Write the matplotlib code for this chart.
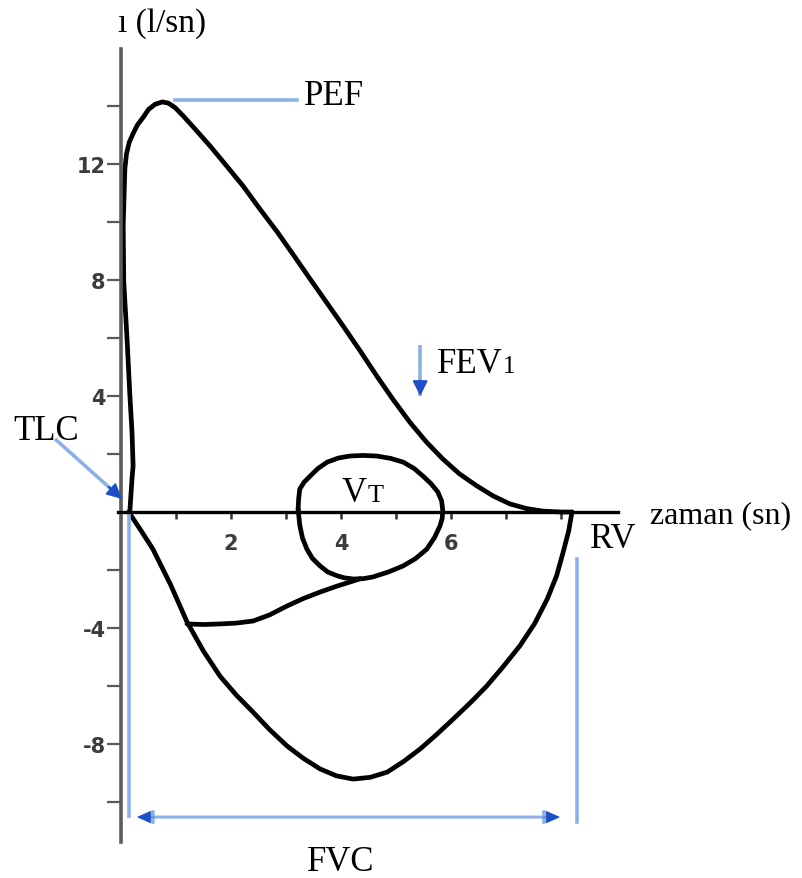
import matplotlib
matplotlib.use("Agg")
import matplotlib.pyplot as plt
from matplotlib.ticker import FixedLocator, FixedFormatter

# flow-volume loop (volume in l, flow in l/sn)
exp_x = [0.16, 0.20, 0.22, 0.20, 0.16, 0.11, 0.05, 0.04, 0.07, 0.10, 0.15, 0.22, 0.30,
         0.40, 0.50, 0.62, 0.75, 0.86, 0.98, 1.13, 1.35, 1.62, 1.90, 2.22, 2.52, 2.84,
         3.14, 3.44, 3.74, 4.04, 4.35, 4.65, 4.95, 5.25, 5.55, 5.85, 6.15, 6.47, 6.77,
         7.07, 7.37, 7.67, 8.00, 8.20]
exp_y = [0.00, 1.14, 1.59, 2.76, 4.07, 5.97, 7.93, 9.86, 11.83, 12.35, 12.75, 13.05, 13.35,
         13.60, 13.88, 14.06, 14.14, 14.10, 13.95, 13.66, 13.20, 12.62, 11.98, 11.24, 10.46,
         9.66, 8.85, 8.03, 7.22, 6.41, 5.55, 4.69, 3.87, 3.10, 2.42, 1.83, 1.32, 0.90, 0.55,
         0.28, 0.12, 0.03, 0.00, 0.00]

insp_x = [0.14, 0.35, 0.58, 0.90, 1.20, 1.50, 1.80, 2.10, 2.40, 2.70, 3.02, 3.32, 3.62,
          3.92, 4.22, 4.53, 4.84, 5.14, 5.44, 5.74, 6.04, 6.35, 6.65, 6.95, 7.25, 7.52,
          7.75, 7.92, 8.04, 8.14, 8.20]
insp_y = [0.00, -0.60, -1.28, -2.50, -3.79, -4.80, -5.66, -6.32, -6.90, -7.50, -8.07,
          -8.50, -8.86, -9.10, -9.21, -9.15, -8.97, -8.60, -8.17, -7.67, -7.14, -6.58,
          -6.00, -5.33, -4.62, -3.85, -3.00, -2.20, -1.38, -0.65, 0.00]

tidal_x = [3.22, 3.23, 3.25, 3.33, 3.44, 3.58, 3.75, 3.95, 4.16, 4.40, 4.65, 4.90, 5.13,
           5.33, 5.49, 5.64, 5.76, 5.83, 5.85, 5.84, 5.80, 5.70, 5.56, 5.36, 5.13, 4.86,
           4.58, 4.40, 4.22, 4.06, 3.93, 3.76, 3.62, 3.48, 3.38, 3.30, 3.25, 3.22]
tidal_y = [0.10, 0.45, 0.79, 1.03, 1.24, 1.50, 1.72, 1.86, 1.93, 1.95, 1.93, 1.85, 1.72,
           1.50, 1.24, 0.97, 0.69, 0.38, 0.05, -0.22, -0.48, -0.88, -1.28, -1.60, -1.86,
           -2.07, -2.24, -2.30, -2.31, -2.27, -2.20, -2.07, -1.86, -1.60, -1.28, -0.90,
           -0.45, 0.10]

tidal_insp_x = [1.20, 1.50, 1.80, 2.10, 2.40, 2.70, 3.02, 3.32, 3.62, 3.92, 4.22, 4.35]
tidal_insp_y = [-3.86, -3.88, -3.86, -3.83, -3.76, -3.55, -3.24, -2.98, -2.76, -2.56,
                -2.38, -2.30]

y_ticks = [-10, -8, -6, -4, -2, 2, 4, 6, 8, 10, 12, 14]
y_tick_labels = ["", "-8", "", "-4", "", "", "4", "", "8", "", "12", ""]
x_ticks = [1, 2, 3, 4, 5, 6, 7, 8]
x_tick_labels = ["", "2", "", "4", "", "6", "", ""]

LIGHT_BLUE = "#8db0e6"
DARK_BLUE = "#1d4fc6"
SERIF = "Liberation Serif"

# pixel mapping of the original: origin at (121, 513), 55 px per l, 29 px per l/sn
W, H = 802, 879
X0, Y0, SX, SY = 121, 513, 55.0, 29.0

fig = plt.figure(figsize=(W / 100, H / 100), dpi=100)
ax = fig.add_axes([0, 0, 1, 1])
ax.set_xlim(-X0 / SX, (W - X0) / SX)
ax.set_ylim((Y0 - H) / SY, Y0 / SY)

for s in ["top", "right"]:
    ax.spines[s].set_visible(False)
ax.spines["left"].set_position(("data", 0))
ax.spines["bottom"].set_position(("data", 0))
ax.spines["left"].set_bounds(-11.38, 15.97)
ax.spines["bottom"].set_bounds(-0.05, 9.04)
ax.spines["left"].set_color("#5f5a5a")
ax.spines["left"].set_linewidth(2.6)
ax.spines["bottom"].set_color("black")
ax.spines["bottom"].set_linewidth(2.4)

ax.yaxis.set_major_locator(FixedLocator(y_ticks))
ax.yaxis.set_major_formatter(FixedFormatter(y_tick_labels))
ax.xaxis.set_major_locator(FixedLocator(x_ticks))
ax.xaxis.set_major_formatter(FixedFormatter(x_tick_labels))
ax.tick_params(axis="y", direction="out", length=10, width=1.6, color="#5f5a5a", pad=1,
               labelsize=15, labelcolor="#3c3c3c")
ax.tick_params(axis="x", direction="out", length=5, width=1.8, color="#333333", pad=10,
               labelsize=15, labelcolor="#3c3c3c")
for lab in ax.get_xticklabels() + ax.get_yticklabels():
    lab.set_fontweight("bold")

# curves
lw = 3.4
style = dict(color="black", lw=lw, solid_capstyle="round", solid_joinstyle="round")
ax.plot(exp_x, exp_y, **style)
ax.plot(insp_x, insp_y, **style)
ax.plot(tidal_x, tidal_y, **style)
ax.plot(tidal_insp_x, tidal_insp_y, **style)


def blue_arrow(x0, y0, x1, y1, frac=0.2):
    ax.plot([x0, x1], [y0, y1], color=LIGHT_BLUE, lw=2.6, solid_capstyle="butt")
    xs = x1 - (x1 - x0) * frac
    ys = y1 - (y1 - y0) * frac
    ax.annotate("", xy=(x1, y1), xytext=(xs, ys),
                arrowprops=dict(arrowstyle="-|>,head_length=0.9,head_width=0.45",
                                color=DARK_BLUE, lw=1.5, shrinkA=0, shrinkB=0))


def small_after(t, s, size, big):
    # smaller glyph on the same baseline, right after text t
    # (text bbox bottom sits one "lp" descent below the baseline)
    d = 0.216
    ax.annotate(s, xy=(1, 0), xycoords=t, xytext=(0, d * big), textcoords="offset points",
                family=SERIF, fontsize=size, va="baseline", ha="left")


# PEF
ax.plot([0.98, 3.2], [14.2, 14.2], color=LIGHT_BLUE, lw=2.6)
ax.text(3.33, 14.07, "PEF", family=SERIF, fontsize=25, va="baseline", ha="left")

# FEV1
blue_arrow(5.44, 5.75, 5.44, 4.0, frac=0.3)
t_fev = ax.text(5.74, 4.83, "FEV", family=SERIF, fontsize=25, va="baseline", ha="left")
small_after(t_fev, "1", 18, 25)

# TLC
blue_arrow(-1.2, 2.52, 0.02, 0.45, frac=0.2)
ax.text(-1.96, 2.52, "TLC", family=SERIF, fontsize=25, va="baseline", ha="left")

# VT
t_v = ax.text(4.02, 0.38, "V", family=SERIF, fontsize=25, va="baseline", ha="left")
small_after(t_v, "T", 19, 25)

# RV and axis titles
ax.text(8.53, -1.21, "RV", family=SERIF, fontsize=25, va="baseline", ha="left")
ax.text(9.62, -0.34, "zaman (sn)", family=SERIF, fontsize=23, va="baseline", ha="left")
ax.text(-0.05, 16.59, "ı (l/sn)", family=SERIF, fontsize=24, va="baseline", ha="left")

# FVC
ax.plot([0.14, 0.14], [-0.07, -10.48], color=LIGHT_BLUE, lw=2.6)
ax.plot([8.29, 8.29], [-1.62, -10.69], color=LIGHT_BLUE, lw=2.6)
ax.annotate("", xy=(0.29, -10.52), xytext=(7.98, -10.52),
            arrowprops=dict(arrowstyle="<|-|>,head_length=0.9,head_width=0.4",
                            color=LIGHT_BLUE, lw=2.2, shrinkA=0, shrinkB=0))
for xe, xs in [(0.29, 0.6), (7.98, 7.67)]:
    ax.annotate("", xy=(xe, -10.52), xytext=(xs, -10.52),
                arrowprops=dict(arrowstyle="-|>,head_length=0.9,head_width=0.4",
                                color=DARK_BLUE, lw=0.5, shrinkA=0, shrinkB=0))
ax.text(4.0, -12.34, "FVC", family=SERIF, fontsize=25, va="baseline", ha="center")

fig.savefig("out.png", dpi=100, facecolor="white")
